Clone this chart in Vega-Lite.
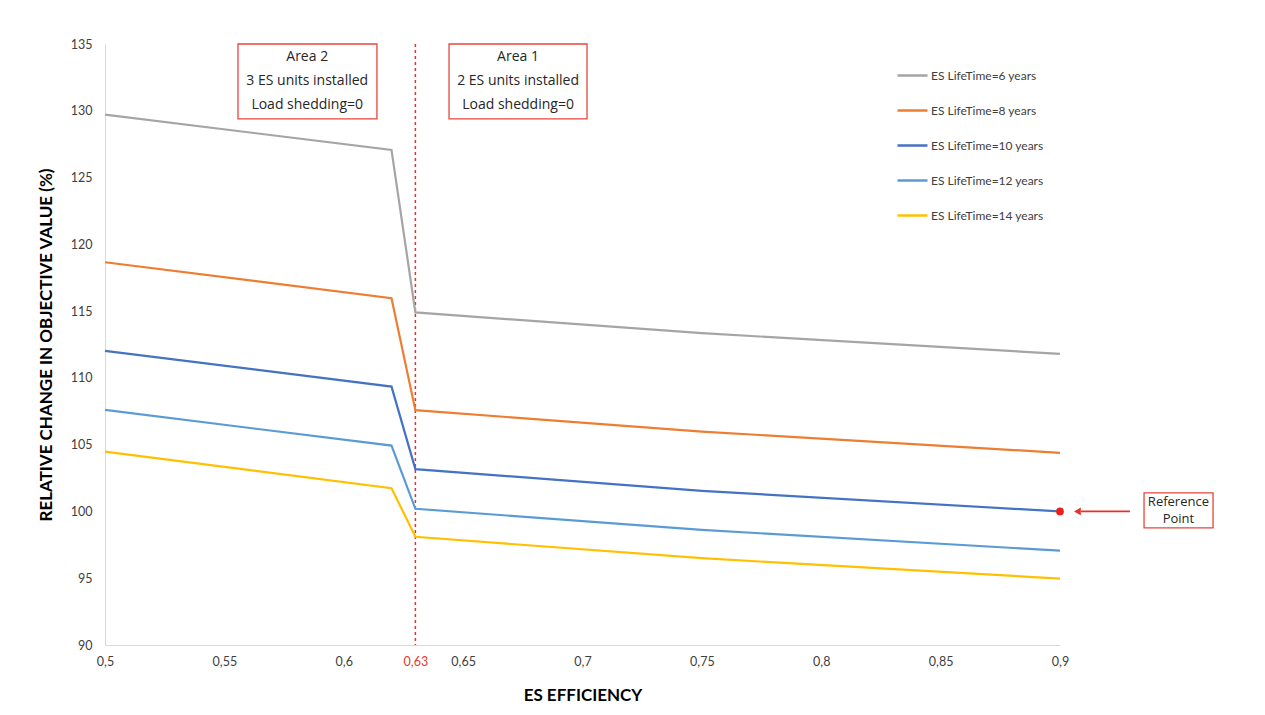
{
  "$schema": "https://vega.github.io/schema/vega-lite/v6.json",
  "width": 955,
  "height": 601,
  "autosize": {"type": "none"},
  "padding": {"left": 105, "top": 44, "right": 205, "bottom": 70},
  "background": "white",
  "config": {
    "font": "Lato",
    "view": {"stroke": null},
    "axis": {"labelFont": "Lato", "titleFont": "Lato"}
  },
  "datasets": {
    "lines": [
      {"eff": 0.5, "value": 129.71, "series": "ES LifeTime=6 years"},
      {"eff": 0.62, "value": 127.07, "series": "ES LifeTime=6 years"},
      {"eff": 0.63, "value": 114.9, "series": "ES LifeTime=6 years"},
      {"eff": 0.75, "value": 113.35, "series": "ES LifeTime=6 years"},
      {"eff": 0.9, "value": 111.8, "series": "ES LifeTime=6 years"},
      {"eff": 0.5, "value": 118.66, "series": "ES LifeTime=8 years"},
      {"eff": 0.62, "value": 115.97, "series": "ES LifeTime=8 years"},
      {"eff": 0.63, "value": 107.58, "series": "ES LifeTime=8 years"},
      {"eff": 0.75, "value": 105.98, "series": "ES LifeTime=8 years"},
      {"eff": 0.9, "value": 104.39, "series": "ES LifeTime=8 years"},
      {"eff": 0.5, "value": 112.02, "series": "ES LifeTime=10 years"},
      {"eff": 0.62, "value": 109.35, "series": "ES LifeTime=10 years"},
      {"eff": 0.63, "value": 103.17, "series": "ES LifeTime=10 years"},
      {"eff": 0.75, "value": 101.54, "series": "ES LifeTime=10 years"},
      {"eff": 0.9, "value": 100.0, "series": "ES LifeTime=10 years"},
      {"eff": 0.5, "value": 107.6, "series": "ES LifeTime=12 years"},
      {"eff": 0.62, "value": 104.93, "series": "ES LifeTime=12 years"},
      {"eff": 0.63, "value": 100.2, "series": "ES LifeTime=12 years"},
      {"eff": 0.75, "value": 98.62, "series": "ES LifeTime=12 years"},
      {"eff": 0.9, "value": 97.06, "series": "ES LifeTime=12 years"},
      {"eff": 0.5, "value": 104.48, "series": "ES LifeTime=14 years"},
      {"eff": 0.62, "value": 101.74, "series": "ES LifeTime=14 years"},
      {"eff": 0.63, "value": 98.1, "series": "ES LifeTime=14 years"},
      {"eff": 0.75, "value": 96.5, "series": "ES LifeTime=14 years"},
      {"eff": 0.9, "value": 94.97, "series": "ES LifeTime=14 years"}
    ],
    "boxes": [
      {"x1": 0.5557, "x2": 0.6139, "y1": 135, "y2": 129.39},
      {"x1": 0.6441, "x2": 0.7019, "y1": 135, "y2": 129.39},
      {"x1": 0.9352, "x2": 0.9641, "y1": 101.39, "y2": 98.77}
    ],
    "labels": [
      {"x": 0.5847, "y": 134.03, "text": "Area 2"},
      {"x": 0.5847, "y": 132.23, "text": "3 ES units installed"},
      {"x": 0.5847, "y": 130.43, "text": "Load shedding=0"},
      {"x": 0.673, "y": 134.03, "text": "Area 1"},
      {"x": 0.673, "y": 132.23, "text": "2 ES units installed"},
      {"x": 0.673, "y": 130.43, "text": "Load shedding=0"}
    ],
    "reflabels": [
      {"x": 0.9496, "y": 100.72, "text": "Reference"},
      {"x": 0.9496, "y": 99.45, "text": "Point"}
    ]
  },
  "layer": [
    {
      "data": {"values": [{"eff": 0.63}]},
      "mark": {"type": "rule", "color": "#e8302a", "strokeDash": [3, 3], "strokeWidth": 1.5},
      "encoding": {"x": {"field": "eff", "type": "quantitative"}}
    },
    {
      "data": {"name": "lines"},
      "mark": {"type": "line", "strokeWidth": 2.2},
      "encoding": {
        "x": {
          "field": "eff",
          "type": "quantitative",
          "scale": {"domain": [0.5, 0.9], "nice": false, "zero": false},
          "axis": {
            "values": [0.5, 0.55, 0.6, 0.63, 0.65, 0.7, 0.75, 0.8, 0.85, 0.9],
            "labelExpr": "replace(format(datum.value, '~g'), '.', ',')",
            "labelColor": {"expr": "datum.value == 0.63 ? '#e53a30' : '#404040'"},
            "labelFontSize": 12.5,
            "labelPadding": 10,
            "labelOverlap": false,
            "labelFlush": false,
            "ticks": false,
            "grid": false,
            "domainColor": "#d9d9d9",
            "title": "ES EFFICIENCY",
            "titleFontSize": 17,
            "titleFontWeight": "bold",
            "titleColor": "#000000",
            "titlePadding": 20
          }
        },
        "y": {
          "field": "value",
          "type": "quantitative",
          "scale": {"domain": [90, 135], "nice": false, "zero": false},
          "axis": {
            "values": [90, 95, 100, 105, 110, 115, 120, 125, 130, 135],
            "labelFontSize": 12.5,
            "labelColor": "#404040",
            "labelPadding": 13,
            "labelFlush": false,
            "ticks": false,
            "grid": false,
            "domainColor": "#d9d9d9",
            "title": "RELATIVE CHANGE IN OBJECTIVE VALUE (%)",
            "titleFontSize": 17,
            "titleFontWeight": "bold",
            "titleColor": "#000000",
            "titlePadding": 15
          }
        },
        "color": {
          "field": "series",
          "type": "nominal",
          "scale": {
            "domain": ["ES LifeTime=6 years", "ES LifeTime=8 years", "ES LifeTime=10 years", "ES LifeTime=12 years", "ES LifeTime=14 years"],
            "range": ["#a5a5a5", "#ed7d31", "#4472c4", "#5b9bd5", "#ffc000"]
          },
          "legend": {
            "orient": "none",
            "legendX": 791,
            "legendY": 15,
            "title": null,
            "symbolType": "stroke",
            "symbolSize": 900,
            "symbolStrokeWidth": 2.5,
            "labelFontSize": 12,
            "labelColor": "#404040",
            "labelOffset": 2,
            "rowPadding": 12
          }
        }
      }
    },
    {
      "data": {"name": "boxes"},
      "mark": {"type": "rect", "fill": "white", "stroke": "#e8453c", "strokeWidth": 1.3},
      "encoding": {
        "x": {"field": "x1", "type": "quantitative"},
        "x2": {"field": "x2"},
        "y": {"field": "y1", "type": "quantitative"},
        "y2": {"field": "y2"}
      }
    },
    {
      "data": {"name": "labels"},
      "mark": {"type": "text", "font": "Open Sans", "fontSize": 14, "color": "#262626", "align": "center", "baseline": "middle"},
      "encoding": {
        "x": {"field": "x", "type": "quantitative"},
        "y": {"field": "y", "type": "quantitative"},
        "text": {"field": "text"}
      }
    },
    {
      "data": {"name": "reflabels"},
      "mark": {"type": "text", "font": "Open Sans", "fontSize": 13, "color": "#262626", "align": "center", "baseline": "middle"},
      "encoding": {
        "x": {"field": "x", "type": "quantitative"},
        "y": {"field": "y", "type": "quantitative"},
        "text": {"field": "text"}
      }
    },
    {
      "data": {"values": [{"x": 0.9088, "y": 100}, {"x": 0.9293, "y": 100}]},
      "mark": {"type": "line", "color": "#e8302a", "strokeWidth": 1.8},
      "encoding": {
        "x": {"field": "x", "type": "quantitative"},
        "y": {"field": "y", "type": "quantitative"}
      }
    },
    {
      "data": {"values": [{"x": 0.9073, "y": 100}]},
      "mark": {"type": "point", "shape": "triangle-left", "filled": true, "color": "#e8302a", "size": 60, "opacity": 1},
      "encoding": {
        "x": {"field": "x", "type": "quantitative"},
        "y": {"field": "y", "type": "quantitative"}
      }
    },
    {
      "data": {"values": [{"x": 0.9, "y": 100}]},
      "mark": {"type": "point", "shape": "circle", "filled": true, "color": "#e8201a", "size": 60, "opacity": 1},
      "encoding": {
        "x": {"field": "x", "type": "quantitative"},
        "y": {"field": "y", "type": "quantitative"}
      }
    }
  ]
}
